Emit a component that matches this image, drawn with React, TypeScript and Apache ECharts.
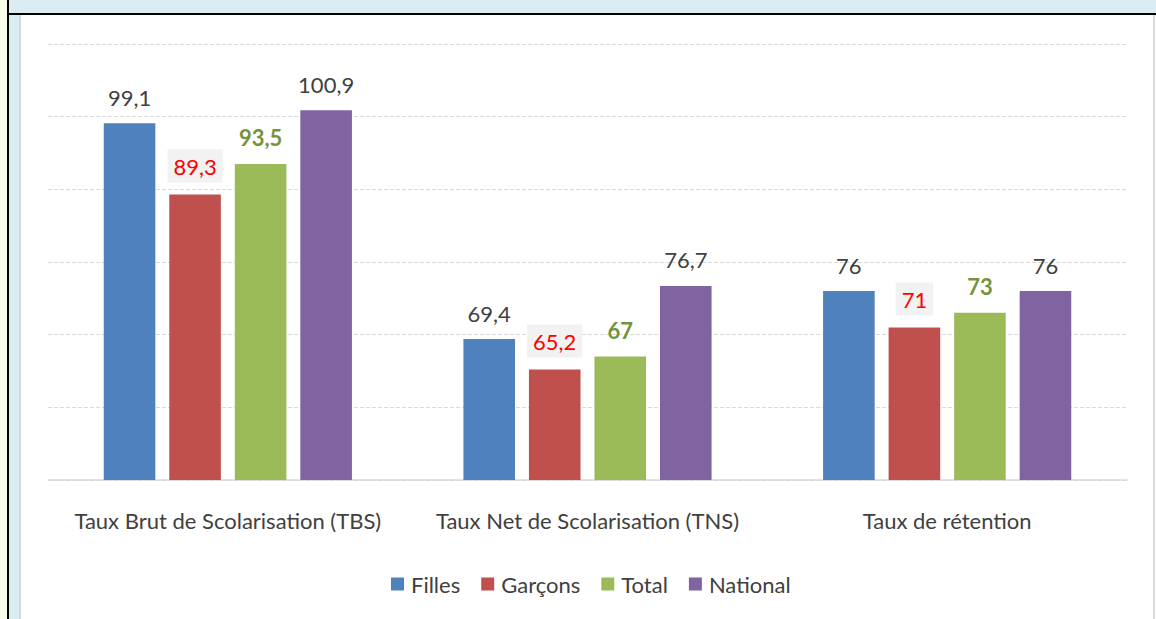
import React, { useEffect, useRef } from "react";
import * as echarts from "echarts";

const categories = [
  "Taux Brut de Scolarisation (TBS)",
  "Taux Net de Scolarisation (TNS)",
  "Taux de rétention",
];
const seriesNames = ["Filles", "Garçons", "Total", "National"];
const filles = [99.1, 69.4, 76];
const garcons = [89.3, 65.2, 71];
const total = [93.5, 67, 73];
const national = [100.9, 76.7, 76];
const colors = ["#4f81bd", "#c0504d", "#9bbb59", "#8064a2"];

const FONT = "Lato, sans-serif";
const FS = 22;
const fmt = (v: number) => String(v).replace(".", ",");

export default function App() {
  const ref = useRef<HTMLDivElement>(null);
  useEffect(() => {
    if (!ref.current) return;
    const chart = echarts.init(ref.current, null, { renderer: "svg" });
    const values = [filles, garcons, total, national];
    const labelStyles: any[] = [
      { color: "#404040", fontWeight: "normal", distance: 15 },
      {
        color: "#ff0000",
        fontWeight: "normal",
        distance: 12,
        backgroundColor: "#f2f2f2",
        padding: [6, 6, 5, 6],
      },
      { color: "#76923c", fontWeight: "bold", distance: 15 },
      { color: "#404040", fontWeight: "normal", distance: 15 },
    ];
    chart.setOption({
      animation: false,
      textStyle: { fontFamily: FONT },
      grid: { left: 48, right: 29, top: 44, bottom: 139, containLabel: false },
      legend: {
        data: seriesNames,
        left: 386,
        top: 568,
        itemWidth: 13,
        itemHeight: 13,
        itemGap: 21,
        icon: "rect",
        textStyle: {
          fontFamily: FONT,
          fontSize: FS,
          color: "#404040",
          padding: [0, 0, 0, 2],
        },
      },
      xAxis: {
        type: "category",
        data: categories,
        axisLine: { lineStyle: { color: "#d9d9d9", width: 1.5 } },
        axisTick: { show: false },
        axisLabel: {
          interval: 0,
          fontFamily: FONT,
          fontSize: FS,
          color: "#404040",
          margin: 29,
        },
      },
      yAxis: {
        type: "value",
        min: 50,
        max: 110,
        interval: 10,
        axisLabel: { show: false },
        axisLine: { show: false },
        axisTick: { show: false },
        splitLine: {
          lineStyle: { color: "#d9d9d9", type: [4, 2], width: 1 },
        },
      },
      series: seriesNames.map((name, i) => ({
        name,
        type: "bar",
        data: values[i],
        barGap: "27%",
        barCategoryGap: "31%",
        itemStyle: { color: colors[i] },
        label: {
          show: true,
          position: "top",
          fontFamily: FONT,
          fontSize: FS,
          formatter: (p: any) => fmt(p.value),
          ...labelStyles[i],
        },
      })),
    });
    return () => chart.dispose();
  }, []);

  return (
    <div
      style={{
        position: "absolute",
        left: 0,
        top: 0,
        width: 1156,
        height: 619,
        background: "#ffffff",
        overflow: "hidden",
      }}
    >
      <div style={{ position: "absolute", left: 0, top: 0, width: 7, height: 619, background: "#f6ffe9" }} />
      <div style={{ position: "absolute", left: 9, top: 0, width: 1147, height: 13, background: "#daedf3" }} />
      <div style={{ position: "absolute", left: 9, top: 15, width: 10, height: 604, background: "#daedf3" }} />
      <div style={{ position: "absolute", left: 19, top: 15, width: 2, height: 604, background: "#d9d9d9" }} />
      <div style={{ position: "absolute", left: 1153, top: 15, width: 2, height: 604, background: "#d9d9d9" }} />
      <div style={{ position: "absolute", left: 7, top: 0, width: 2, height: 619, background: "#000000" }} />
      <div style={{ position: "absolute", left: 7, top: 13, width: 1149, height: 2, background: "#000000" }} />
      <div ref={ref} style={{ position: "absolute", left: 0, top: 0, width: 1156, height: 619 }} />
    </div>
  );
}
